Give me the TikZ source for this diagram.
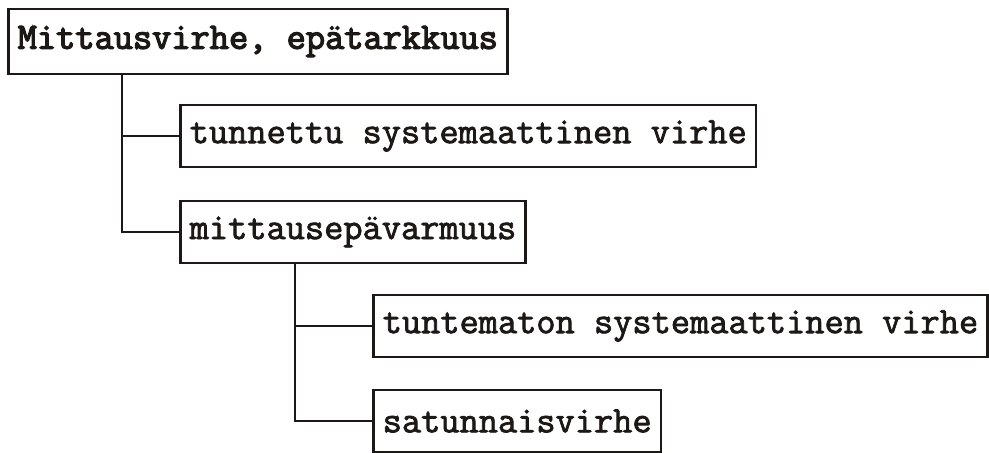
\documentclass[tikz,border=0pt]{standalone}
\usepackage{fontspec}
\newfontfamily\itemfont[FakeBold=2]{Latin Modern Mono}
\newfontfamily\headfont[FakeBold=3.4]{Latin Modern Mono}
\usepackage{tikz}
\usetikzlibrary{calc}
\usepackage{xcolor}
\definecolor{inkdark}{RGB}{28,24,22}
\definecolor{paperwhite}{RGB}{255,255,255}

\tikzset{
  termbox/.style={draw=inkdark,line width=1.3pt,anchor=west,text=inkdark,
    inner xsep=4.7pt,minimum height=31pt,font=\fontsize{18.65}{20}\selectfont\itemfont},
  headbox/.style={termbox,minimum height=32.5pt,
    font=\fontsize{18.65}{20}\selectfont\headfont},
  branch/.style={inkdark,line width=1.3pt}
}

\begin{document}
\begin{tikzpicture}[x=0.5pt,y=-0.5pt]

  % ── CANVAS ────────────────────────────────────────────────────────────────
  \fill[paperwhite] (0,0) rectangle (989,452);
  \useasboundingbox (0,0) rectangle (989,452);

  % ── TOP LEVEL ─────────────────────────────────────────────────────────────
  \node[headbox] (virhe) at (7,41.5) {Mittausvirhe, epätarkkuus};

  % ── FIRST LEVEL ───────────────────────────────────────────────────────────
  \node[termbox] (tunnettu) at (179,136) {tunnettu systemaattinen virhe};
  \node[termbox] (epavarm)  at (179,232) {mittausepävarmuus};

  % ── SECOND LEVEL ──────────────────────────────────────────────────────────
  \node[termbox] (tuntematon) at (372,326) {tuntematon systemaattinen virhe};
  \node[termbox] (satunn)     at (372,421) {satunnaisvirhe};

  % ── TREE LINES ────────────────────────────────────────────────────────────
  \coordinate (trunkA) at ([xshift=57.5pt]virhe.south west);
  \draw[branch] (trunkA) |- (tunnettu.west);
  \draw[branch] (trunkA) |- (epavarm.west);

  \coordinate (trunkB) at ([xshift=58pt]epavarm.south west);
  \draw[branch] (trunkB) |- (tuntematon.west);
  \draw[branch] (trunkB) |- (satunn.west);

\end{tikzpicture}
\end{document}
